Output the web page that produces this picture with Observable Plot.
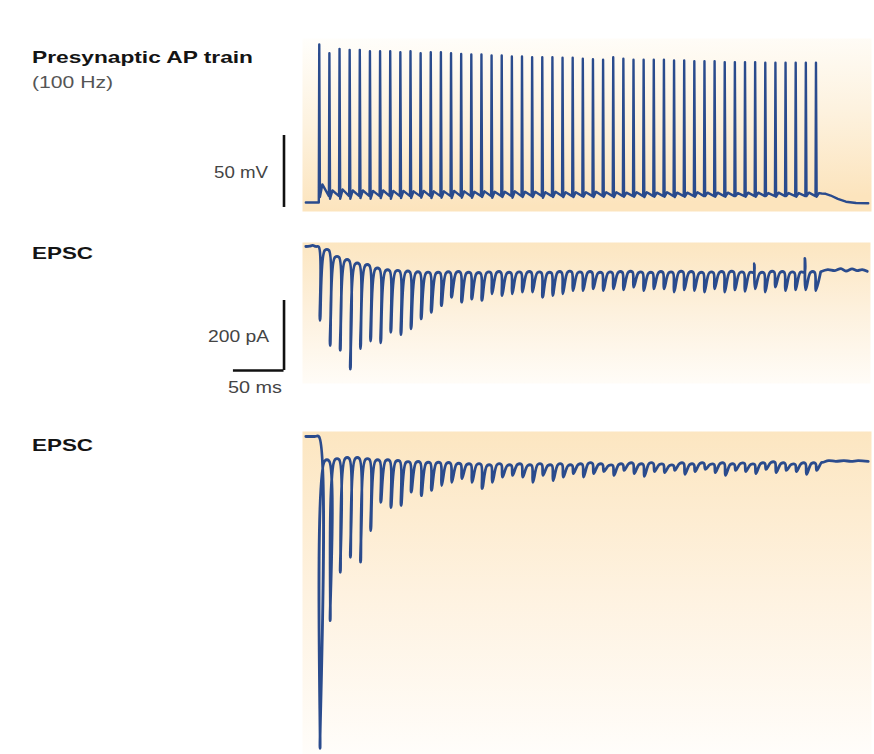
<!DOCTYPE html>
<html>
<head>
<meta charset="utf-8">
<script src="https://cdn.jsdelivr.net/npm/d3@7"></script>
<script src="https://cdn.jsdelivr.net/npm/@observablehq/plot@0.6"></script>
<style>
  body { margin: 0; background: #fff; }
  #fig { position: relative; width: 874px; height: 754px; overflow: hidden; background: #fff; }
  #fig > svg { position: absolute; left: 0; overflow: visible; }
</style>
</head>
<body>
<div id="fig"></div>
<script>
// ---------------- DATA ----------------
// stimulus / spike times of the 100 Hz train (ms)
const stimT = [0,10,20,30,40,50,60,70,80,90,100,110,120,130,140,150,160,170,180,190,200,210,220,230,240,250,260,270,280,290,300,310,320,330,340,350,360,370,380,390,400,410,420,430,440,450,460,470,480,490];

// Presynaptic AP train (mV)
const apRest = -70;
const apInter = -65.6;
const apPeak = [39.7,33.7,36.7,36.0,36.0,35.1,35.1,35.1,34.4,35.1,33.7,34.4,34.4,33.7,33.2,32.8,32.8,32.1,32.1,31.4,31.4,30.9,30.9,30.9,30.5,30.5,29.8,29.5,29.1,30.9,29.8,29.1,29.1,29.1,29.1,28.6,28.6,28.1,28.1,28.1,27.5,27.5,27.5,27.5,27.0,27.0,27.0,27.0,27.0,27.0];
const apAHP = [-66.3,-67.4,-67.4,-67.4,-67.0,-67.4,-67.0,-67.4,-67.0,-67.0,-66.7,-67.0,-66.7,-67.0,-66.7,-66.7,-66.3,-66.7,-66.3,-66.7,-66.3,-66.3,-66.7,-66.3,-66.3,-66.3,-66.0,-66.3,-66.0,-66.3,-66.0,-66.0,-66.3,-66.0,-66.0,-66.3,-66.0,-66.0,-65.6,-66.0,-66.0,-65.6,-66.0,-66.0,-65.6,-66.0,-65.6,-66.0,-65.6,-66.0];
const apADP = [-57.5,-61.7,-61.0,-61.7,-61.7,-62.0,-61.7,-62.0,-62.0,-62.3,-62.0,-62.3,-62.3,-62.0,-62.3,-62.6,-62.3,-62.6,-62.6,-62.3,-62.6,-62.6,-62.9,-62.6,-62.9,-62.9,-62.9,-62.6,-62.9,-62.9,-63.2,-62.9,-62.9,-63.2,-62.9,-63.2,-63.2,-62.9,-63.2,-63.2,-63.2,-63.5,-63.2,-63.2,-63.5,-63.2,-63.5,-63.5,-63.2,-63.5];
const apStartT = [-12.8, 0];
const apStartV = [-70, -70];
const apTailT = [496, 500, 505, 512, 520, 530, 542];
const apTailV = [-63.8, -64.0, -65.2, -67.5, -69.5, -70.4, -70.6];

// EPSC, recording 1 (pA)
const epsc1Trough = [-211,-283,-297,-350,-292,-270,-275,-245,-252,-235,-207,-188,-169,-145,-159,-150,-154,-135,-140,-135,-130,-130,-145,-140,-135,-126,-126,-121,-126,-121,-124,-116,-126,-121,-121,-130,-124,-126,-130,-121,-130,-124,-128,-121,-130,-116,-126,-124,-124,-126];
const epsc1Top = [-11,-31,-40,-50,-54,-64,-69,-71,-73,-75,-76,-76,-75,-74,-76,-77,-75,-74,-76,-75,-74,-75,-76,-74,-73,-75,-74,-76,-75,-74,-73,-75,-76,-74,-75,-73,-74,-76,-75,-74,-73,-75,-74,-76,-73,-74,-75,-73,-74,-72];
const epsc1StartT = [-12.8, -9, -6, -3, 0];
const epsc1StartV = [0, 1, 3, 0, -1];
const epsc1ArtStim = [43, 48];
const epsc1ArtV = [-49, -34];
const epsc1TailT = [496, 503, 510, 516, 521, 527, 532, 537, 542];
const epsc1TailV = [-72, -66, -69, -63, -70, -64, -69, -66, -71];

// EPSC, recording 2 (pA)
const epsc2Trough = [-891,-526,-388,-345,-359,-269,-188,-203,-197,-159,-169,-154,-140,-131,-120,-131,-149,-131,-116,-111,-116,-131,-111,-126,-116,-106,-116,-106,-100,-111,-97,-106,-114,-100,-103,-97,-108,-100,-94,-103,-111,-97,-100,-106,-94,-103,-97,-100,-108,-97];
const epsc2Top = [-69,-66,-63,-63,-66,-69,-69,-71,-74,-74,-76,-76,-77,-79,-80,-80,-83,-80,-83,-80,-83,-80,-83,-80,-83,-80,-77,-80,-83,-80,-77,-80,-77,-80,-83,-77,-80,-77,-80,-77,-80,-77,-80,-77,-74,-77,-80,-77,-77,-74];
const epsc2StartT = [-12.8, -8, -4, 0];
const epsc2StartV = [0, 0, 0, 0];
const epsc2TailT = [497, 503, 510, 518, 525, 532, 542];
const epsc2TailV = [-74, -69, -71, -69, -71, -69, -71];

// scale bars
const barMV = 50, barPA = 200, barMS = 50;

// ---------------- LAYOUT ----------------
const W = 874;
const traceColor = "#2a4b8d";
const X0PX = 318.3, PXPERMS = 1.0137, FL = 302, FR = 871;
const xDomain = [(FL - X0PX) / PXPERMS, (FR - X0PX) / PXPERMS];
const barT = (283.5 - X0PX) / PXPERMS;   // x position of the scale bars (ms)

function apRows() {
  const rows = apStartT.map((t, k) => ({t, v: apStartV[k]}));
  stimT.forEach((t0, i) => {
    if (i > 0) rows.push({t: t0, v: apInter});
    rows.push({t: t0 + 0.45, v: apPeak[i]});
    rows.push({t: t0 + 1.1, v: apAHP[i]});
    rows.push({t: t0 + 3.5, v: apADP[i]});
  });
  apTailT.forEach((t, k) => rows.push({t, v: apTailV[k]}));
  return rows;
}

function epscRows(startT, startV, troughs, tops, tailT, tailV, artI = [], artV = []) {
  const rows = startT.map((t, k) => ({t, v: startV[k]}));
  let prev = startV[startV.length - 1];
  stimT.forEach((t0, i) => {
    if (i > 0) rows.push({t: t0, v: prev});
    const a = artI.indexOf(i);
    if (a >= 0) rows.push({t: t0 + 0.4, v: artV[a]});
    rows.push({t: t0 + 1.2, v: troughs[i]});
    rows.push({t: t0 + 6, v: tops[i]});
    prev = tops[i];
  });
  tailT.forEach((t, k) => rows.push({t, v: tailV[k]}));
  return rows;
}

function addGradient(svg, id, stops, x2 = 0, y2 = 1) {
  const defs = d3.select(svg).insert("defs", ":first-child");
  const g = defs.append("linearGradient").attr("id", id)
    .attr("x1", 0).attr("y1", 0).attr("x2", x2).attr("y2", y2);
  stops.forEach(([o, c]) => g.append("stop").attr("offset", o).attr("stop-color", c));
}

const fig = document.getElementById("fig");

// Panel 1: AP train
const p1 = Plot.plot({
  width: W, height: 190,
  marginLeft: FL, marginRight: W - FR, marginTop: 8, marginBottom: 9,
  x: {domain: xDomain, axis: null},
  y: {domain: [-76.3, 43.9], axis: null},
  style: {background: "transparent", overflow: "visible"},
  marks: [
    Plot.frame({fill: "url(#bg1)", stroke: null}),
    Plot.line(apRows(), {x: "t", y: "v", stroke: traceColor, strokeWidth: 2.4}),
    Plot.ruleX([barT], {y1: -73.5, y2: -73.5 + barMV, stroke: "#111", strokeWidth: 2.6})
  ]
});
addGradient(p1, "bg1", [[0, "#fffefb"], [0.5, "#fdf2df"], [1, "#fce4bd"]], 0.1, 1);
p1.style.top = "30px";
fig.appendChild(p1);

// Panel 2: EPSC 1
const p2 = Plot.plot({
  width: W, height: 170,
  marginLeft: FL, marginRight: W - FR + 1, marginTop: 12, marginBottom: 17,
  x: {domain: xDomain, axis: null},
  y: {domain: [-391.4, 11.4], axis: null},
  style: {background: "transparent", overflow: "visible"},
  marks: [
    Plot.frame({fill: "url(#bg2)", stroke: null}),
    Plot.line(epscRows(epsc1StartT, epsc1StartV, epsc1Trough, epsc1Top, epsc1TailT, epsc1TailV, epsc1ArtStim, epsc1ArtV),
      {x: "t", y: "v", stroke: traceColor, strokeWidth: 2.8, curve: "catmull-rom"}),
    Plot.ruleX([barT], {y1: -354.3, y2: -354.3 + barPA, stroke: "#111", strokeWidth: 2.6}),
    Plot.ruleY([-354.3], {x1: barT - barMS, x2: barT, stroke: "#111", strokeWidth: 2.6})
  ]
});
addGradient(p2, "bg2", [[0, "#fce6c1"], [0.5, "#fdf1de"], [1, "#fffcf7"]]);
p2.style.top = "230px";
fig.appendChild(p2);

// Panel 3: EPSC 2
const p3 = Plot.plot({
  width: W, height: 334,
  marginLeft: FL, marginRight: W - FR, marginTop: 11, marginBottom: 0,
  x: {domain: xDomain, axis: null},
  y: {domain: [-908.6, 14.3], axis: null},
  style: {background: "transparent", overflow: "visible"},
  marks: [
    Plot.frame({fill: "url(#bg3)", stroke: null}),
    Plot.line(epscRows(epsc2StartT, epsc2StartV, epsc2Trough, epsc2Top, epsc2TailT, epsc2TailV),
      {x: "t", y: "v", stroke: traceColor, strokeWidth: 2.8, curve: "catmull-rom"})
  ]
});
addGradient(p3, "bg3", [[0, "#fce6c1"], [0.5, "#fef2e0"], [1, "#fffdfa"]]);
p3.style.top = "420px";
fig.appendChild(p3);

// Labels (real text)
const labels = [
  {text: "Presynaptic AP train", x: 32, y: 63, w: 221, bold: true, anchor: "start", color: "#141414"},
  {text: "(100 Hz)", x: 32, y: 88, w: 81, bold: false, anchor: "start", color: "#555"},
  {text: "50 mV", x: 268, y: 178, w: 54, bold: false, anchor: "end", color: "#444"},
  {text: "EPSC", x: 32, y: 259, w: 61, bold: true, anchor: "start", color: "#141414"},
  {text: "200 pA", x: 269, y: 342, w: 61, bold: false, anchor: "end", color: "#444"},
  {text: "50 ms", x: 255, y: 393, w: 54, bold: false, anchor: "middle", color: "#444"},
  {text: "EPSC", x: 32, y: 451, w: 61, bold: true, anchor: "start", color: "#141414"}
];
const ov = d3.create("svg").attr("width", W).attr("height", 754).style("top", "0px").style("pointer-events", "none");
ov.selectAll("text").data(labels).join("text")
  .attr("x", d => d.x).attr("y", d => d.y)
  .attr("text-anchor", d => d.anchor)
  .attr("font-family", "'Liberation Sans', Arial, Helvetica, sans-serif")
  .attr("font-size", d => d.bold ? 17 : 16)
  .attr("font-weight", d => d.bold ? "bold" : "normal")
  .attr("fill", d => d.color)
  .attr("textLength", d => d.w)
  .attr("lengthAdjust", "spacingAndGlyphs")
  .text(d => d.text);
fig.appendChild(ov.node());
</script>
</body>
</html>
